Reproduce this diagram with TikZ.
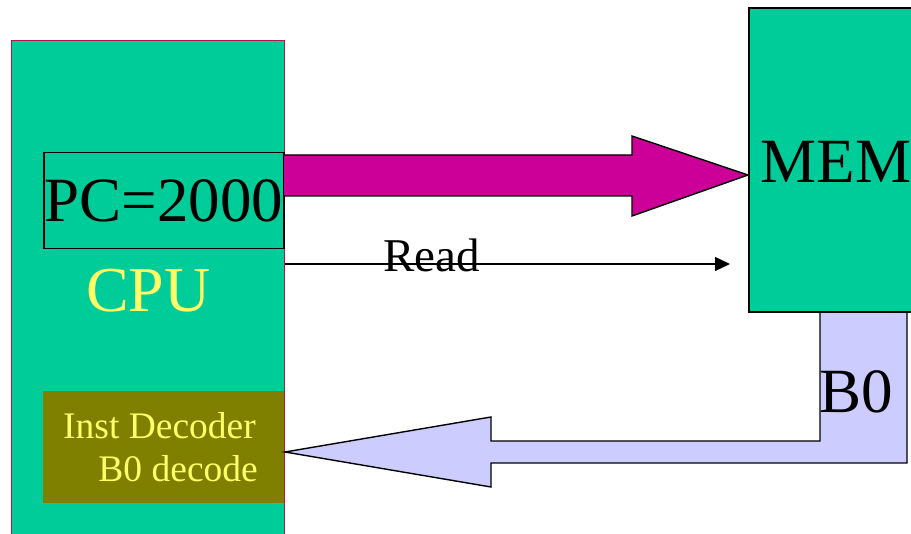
\documentclass[tikz,border=0pt]{standalone}
\usepackage{fontspec}
\setmainfont{Liberation Serif}
\usetikzlibrary{arrows.meta}

\definecolor{boxgreen}{RGB}{0,204,153}
\definecolor{busmagenta}{RGB}{204,0,153}
\definecolor{buslilac}{RGB}{204,204,255}
\definecolor{decolive}{RGB}{128,128,0}
\definecolor{labelyellow}{RGB}{255,255,102}
\definecolor{cpuedge}{RGB}{175,25,70}

\begin{document}
\begin{tikzpicture}[x=1pt,y=-1pt,
  unitbox/.style={fill=boxgreen, inner sep=0pt, anchor=north west},
  bigtext/.style={font=\fontsize{63}{63}\selectfont, inner sep=0pt},
  midtext/.style={font=\fontsize{47}{47}\selectfont, inner sep=0pt},
  smalltext/.style={font=\fontsize{37.5}{37.5}\selectfont, inner sep=0pt, text=labelyellow},
  busline/.style={draw=black, line width=1.4pt, line join=miter},
  readline/.style={line width=1.3pt, -{Triangle[length=15pt,width=14pt]}}]

\useasboundingbox (0,0) rectangle (911,534);
\clip (0,0) rectangle (911,534);

% processor block with its registers
\node[unitbox, draw=cpuedge, line width=1pt, minimum width=273, minimum height=520] (cpu) at (11,40) {};
\node[unitbox, draw=black, line width=1.5pt, minimum width=240, minimum height=96] (pc) at (43,152) {};
\node[bigtext, anchor=base] (pctext) at (pc.center |- 0,222) {PC=2000};
\node[bigtext, font=\fontsize{64}{64}\selectfont, text=labelyellow, anchor=base west] (cputext) at (86,312) {CPU};
\node[unitbox, fill=decolive, minimum width=241, minimum height=112] (dec) at (43,391) {};
\node[smalltext, anchor=base west] (dec1) at (63,439) {Inst Decoder};
\node[smalltext, anchor=base east] (dec2) at (258,482) {B0 decode};

% data returned from memory
\draw[busline, fill=buslilac] (285,452) -- (491,417) -- (491,441) -- (820,441)
  -- (820,311) -- (907,311) -- (907,463) -- (491,463) -- (491,487) -- cycle;

% address bus to memory
\draw[busline, fill=busmagenta] (284,155) -- (632,155) -- (632,136) -- (748,175)
  -- (632,216) -- (632,196) -- (284,196);

% memory block
\node[unitbox, draw=black, line width=1.5pt, minimum width=200, minimum height=304] (mem) at (748,7.5) {};
\node[bigtext, anchor=base west] (memtext) at (760.5,183) {MEM};
\node[bigtext, anchor=base west] (b0text) at (819,413) {B0};

% read strobe
\coordinate (readend) at (730,264);
\draw[readline] (cpu.east |- readend) -- (readend);
\node[midtext, anchor=base west] (readtext) at (383,272) {Read};
\end{tikzpicture}
\end{document}
